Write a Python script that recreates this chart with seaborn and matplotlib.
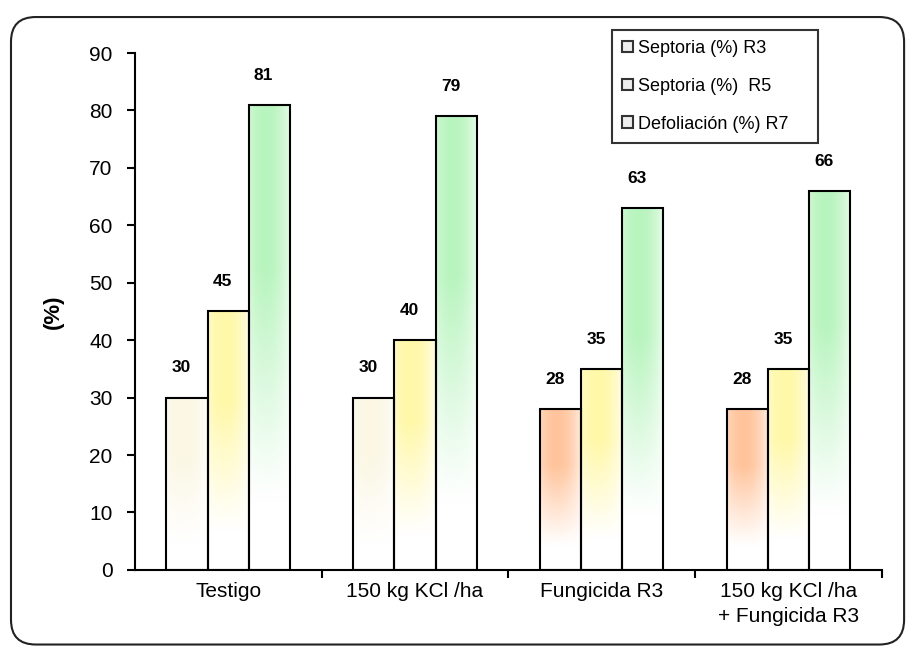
import numpy as np
import pandas as pd
import seaborn as sns
import matplotlib.pyplot as plt
from matplotlib.patches import Patch, FancyBboxPatch
from matplotlib.colors import to_rgb

tratamientos = ['Testigo', '150 kg KCl /ha', 'Fungicida R3', '150 kg KCl /ha\n+ Fungicida R3']
series = ['Septoria (%) R3', 'Septoria (%)  R5', 'Defoliación (%) R7']
septoria_r3 = [30, 30, 28, 28]
septoria_r5 = [45, 40, 35, 35]
defoliacion_r7 = [81, 79, 63, 66]

# colores de cada barra (por serie y tratamiento)
colores = [
    ['#fbf7e4', '#fbf7e4', '#ffc49c', '#ffc49c'],
    ['#fff8a8'] * 4,
    ['#b8f4be'] * 4,
]

df = pd.DataFrame({
    'Tratamiento': tratamientos * 3,
    'Serie': [s for s in series for _ in tratamientos],
    'Valor': septoria_r3 + septoria_r5 + defoliacion_r7,
})

sns.set_style('white')
plt.rcParams['font.family'] = ['Liberation Sans', 'DejaVu Sans']
plt.rcParams['text.color'] = 'black'
plt.rcParams['xtick.color'] = 'black'
plt.rcParams['ytick.color'] = 'black'
plt.rcParams['axes.labelcolor'] = 'black'

fig = plt.figure(figsize=(9.16, 6.55), dpi=100)
ax = fig.add_axes([0.147, 0.130, 0.816, 0.789])

sns.barplot(data=df, x='Tratamiento', y='Valor', hue='Serie', order=tratamientos,
            hue_order=series, width=0.66, palette=['white'] * 3, legend=False, ax=ax)


def degradado(color, n=120):
    # vertical: blanco abajo, color hacia arriba; horizontal: mas intenso a la izquierda del centro
    yy = np.linspace(0, 1, n)[:, None]
    xx = np.linspace(0, 1, 40)[None, :]
    v = np.clip((yy - 0.15) / 0.5, 0, 1)
    h = np.clip(1 - (np.abs(xx - 0.4) / 0.6) ** 2 * 0.7, 0, 1)
    a = (v * h)[..., None]
    c = np.array(to_rgb(color))[None, None, :]
    return np.ones((n, 40, 3)) * (1 - a) + c * a


for i, cont in enumerate(ax.containers):
    for j, bar in enumerate(cont):
        x0, w, h = bar.get_x(), bar.get_width(), bar.get_height()
        ax.imshow(degradado(colores[i][j]), extent=[x0, x0 + w, 0, h], origin='lower',
                  aspect='auto', zorder=1, interpolation='bilinear')
        bar.set_facecolor('none')
        bar.set_edgecolor('black')
        bar.set_linewidth(1.5)
        bar.set_zorder(2)
        ax.annotate(f'{h:.0f}', (x0 + w / 2, h), xytext=(-4, 16), textcoords='offset points',
                    ha='center', va='bottom', fontsize=12.5, fontweight='bold')

ax.set_xlim(-0.5, 3.5)
ax.set_ylim(0, 90)
ax.set_yticks(range(0, 91, 10))
ax.set_xlabel('')
ax.set_ylabel('(%)', fontsize=16, fontweight='bold', labelpad=18)

ax.tick_params(axis='y', which='major', left=True, direction='out', length=6, width=1.5,
               labelsize=15, pad=10)
ax.tick_params(axis='x', which='major', length=0, labelsize=15, pad=9)
ax.set_xticks([0.5, 1.5, 2.5, 3.5], minor=True)
ax.tick_params(axis='x', which='minor', bottom=True, direction='out', length=6, width=1.5)
for lbl in ax.get_xticklabels():
    lbl.set_linespacing(1.35)

for s in ['top', 'right']:
    ax.spines[s].set_visible(False)
for s in ['left', 'bottom']:
    ax.spines[s].set_color('black')
    ax.spines[s].set_linewidth(1.5)

handles = [Patch(facecolor='#eeeeee', edgecolor='#333333', linewidth=1.5) for _ in series]
leg = fig.legend(handles, series, loc='upper left', bbox_to_anchor=(0.668, 0.786, 0.225, 0.168),
                 mode='expand', frameon=True, fancybox=False, fontsize=13, handlelength=0.6,
                 handleheight=0.6, handletextpad=0.3, labelspacing=1.15,
                 borderpad=0.55, borderaxespad=0)
leg.get_frame().set_edgecolor('black')
leg.get_frame().set_linewidth(1.5)

marco = FancyBboxPatch((0.012, 0.016), 0.975, 0.958, boxstyle='round,pad=0,rounding_size=0.027',
                       mutation_aspect=1.4, transform=fig.transFigure, fill=False,
                       edgecolor='#222222', linewidth=1.5)
fig.patches.append(marco)

fig.savefig('out.png', dpi=100)
